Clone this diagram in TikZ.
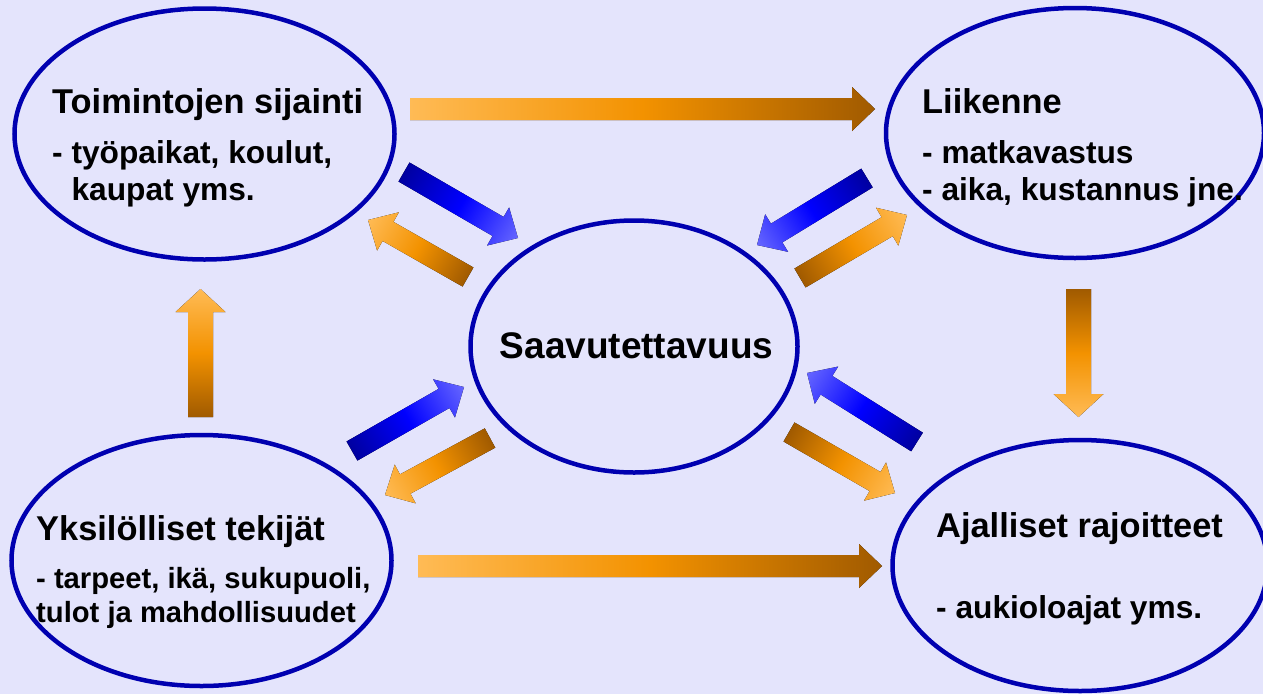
\documentclass[tikz,border=0pt]{standalone}
\usepackage{fontspec}
\setmainfont{Liberation Sans}
\usetikzlibrary{shapes.geometric,calc}

\definecolor{lavender}{RGB}{228,228,252}
\definecolor{rim}{RGB}{0,0,176}
\definecolor{amber}{RGB}{255,187,85}
\definecolor{tangerine}{RGB}{243,146,0}
\definecolor{umber}{RGB}{160,90,0}
\definecolor{navy}{RGB}{0,0,160}
\definecolor{royal}{RGB}{0,0,255}
\definecolor{sky}{RGB}{102,102,255}

% block arrow from #2 to #3, shaft half width #1, colours #4
\newcommand\fatarrow[4][11]{%
  \path let \p1=($(#3)-(#2)$) in
    \pgfextra{\pgfmathsetmacro\arrang{atan2(\y1,\x1)}%
      \pgfmathsetmacro\arrlen{veclen(\x1,\y1)}%
      \global\let\arrang\arrang\global\let\arrlen\arrlen};
  \fill[#4, transform canvas={shift={(#2)}, rotate=\arrang}]
    (0,-#1) -- (\arrlen-23,-#1) -- (\arrlen-23,-2*#1) -- (\arrlen,0)
    -- (\arrlen-23,2*#1) -- (\arrlen-23,#1) -- (0,#1) -- cycle;
}

\begin{document}
\begin{tikzpicture}[x=1pt,y=1pt,
  bubble/.style={ellipse, draw=rim, line width=4.5pt, inner sep=0pt},
  head/.style={anchor=base west, inner sep=0pt, font=\fontsize{34.4}{40}\selectfont\bfseries},
  body/.style={anchor=base west, inner sep=0pt, align=left, font=\fontsize{31.7}{37}\selectfont\bfseries},
  warm/.style={left color=umber, right color=amber, middle color=tangerine},
  glow/.style={left color=amber, right color=umber, middle color=tangerine},
  cool/.style={left color=navy, right color=sky, middle color=royal}]
 \path[use as bounding box, fill=lavender] (0,0) rectangle (1263,-694);
 %
 \node[bubble, minimum width=380pt, minimum height=251pt] (toim) at (204.5,-134) {};
 \node[bubble, minimum width=378pt, minimum height=250pt] (liik) at (1075,-133) {};
 \node[bubble, minimum width=327pt, minimum height=252pt] (saav) at (634,-346.5) {};
 \node[bubble, minimum width=380pt, minimum height=251pt] (yksi) at (201.5,-560.5) {};
 \node[bubble, minimum width=375pt, minimum height=251pt] (ajal) at (1080,-565.5) {};
 %
 \node[head, anchor=base, font=\fontsize{37}{44}\selectfont\bfseries] (saavhead) at (636.5,-358) {Saavutettavuus};
 \node[head] (toimhead) at (52,-113) {Toimintojen sijainti};
 \node[body] (toimbody) at (52,-200.5) {- työpaikat, koulut,\\\phantom{- }kaupat yms.};
 \node[head] (liikhead) at (922,-113) {Liikenne};
 \node[body] (liikbody) at (922,-200) {- matkavastus\\- aika, kustannus jne.};
 \node[head] (yksihead) at (36,-540) {Yksilölliset tekijät};
 \node[body, font=\fontsize{29.2}{34}\selectfont\bfseries] (yksibody) at (36,-622) {- tarpeet, ikä, sukupuoli,\\tulot ja mahdollisuudet};
 \node[head] (ajalhead) at (936,-537) {Ajalliset rajoitteet};
 \node[body] (ajalbody) at (936,-618) {- aukioloajat yms.};
 %
 \coordinate (f1) at (410,-109);    \coordinate (t1) at (875,-109);
 \coordinate (f2) at (418,-566);    \coordinate (t2) at (882,-566);
 \coordinate (f3) at (1078.5,-289); \coordinate (t3) at (1078.5,-417);
 \coordinate (f4) at (200.5,-417);  \coordinate (t4) at (200.5,-289);
 \coordinate (f5) at (404,-172);    \coordinate (t5) at (518,-238);
 \coordinate (f6) at (468,-277);    \coordinate (t6) at (368,-220);
 \coordinate (f7) at (867,-178);    \coordinate (t7) at (757,-245);
 \coordinate (f8) at (800,-278);    \coordinate (t8) at (907,-215);
 \coordinate (f9) at (917,-442);    \coordinate (t9) at (807,-373);
 \coordinate (f10) at (789,-432);   \coordinate (t10) at (895,-493);
 \coordinate (f11) at (352,-451);   \coordinate (t11) at (464,-387);
 \coordinate (f12) at (490,-438);   \coordinate (t12) at (385,-495);
 %
 \fatarrow{f1}{t1}{glow}
 \fatarrow{f2}{t2}{glow}
 \fatarrow[12.5]{f3}{t3}{warm}
 \fatarrow[12.5]{f4}{t4}{warm}
 \fatarrow{f5}{t5}{cool}
 \fatarrow{f6}{t6}{warm}
 \fatarrow{f7}{t7}{cool}
 \fatarrow{f8}{t8}{warm}
 \fatarrow{f9}{t9}{cool}
 \fatarrow{f10}{t10}{warm}
 \fatarrow{f11}{t11}{cool}
 \fatarrow{f12}{t12}{warm}
\end{tikzpicture}
\end{document}
